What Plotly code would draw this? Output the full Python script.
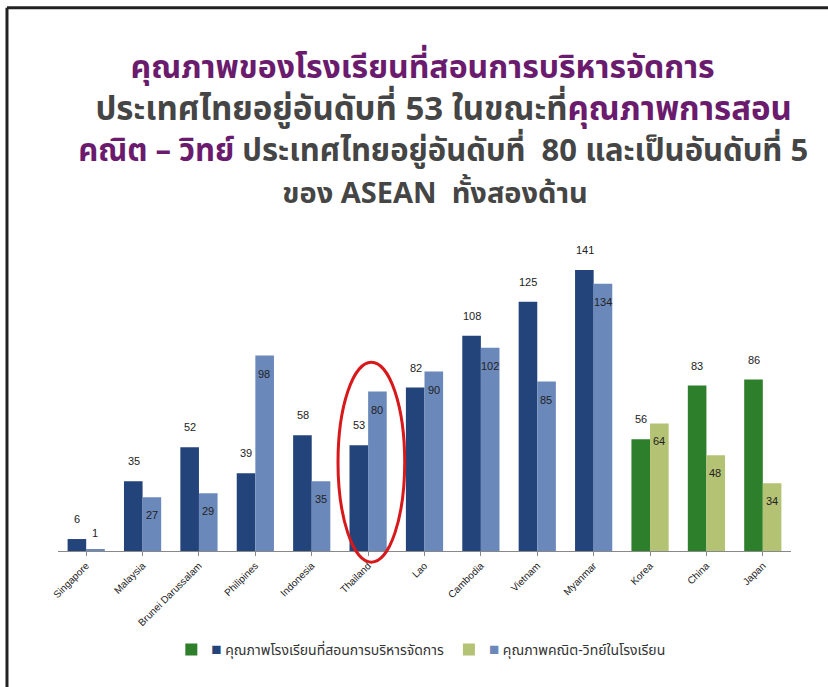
import plotly.graph_objects as go

categories = ["Singapore", "Malaysia", "Brunei Darussalam", "Philipines", "Indonesia",
              "Thailand", "Lao", "Cambodia", "Vietnam", "Myanmar", "Korea", "China", "Japan"]
mgmt = [6, 35, 52, 39, 58, 53, 82, 108, 125, 141, 56, 83, 86]
math = [1, 27, 29, 98, 35, 80, 90, 102, 85, 134, 64, 48, 34]
n_asean = 10

name_mgmt = "คุณภาพโรงเรียนที่สอนการบริหารจัดการ"
name_math = "คุณภาพคณิต-วิทย์ในโรงเรียน"

NAVY = "#23437b"
LBLUE = "#6b88bb"
GREEN = "#2e7f2b"
LGREEN = "#b4c274"
PURPLE = "#6a1b6e"
GRAY = "#454545"

FONT = "Liberation Sans, Arial, sans-serif"
THAI = "Noto Sans Thai, Noto Sans, Liberation Sans, sans-serif"

asean = categories[:n_asean]
others = categories[n_asean:]

fig = go.Figure()
fig.add_trace(go.Bar(x=asean, y=mgmt[:n_asean], marker_color=NAVY, offsetgroup="a",
                     showlegend=False, name=name_mgmt))
fig.add_trace(go.Bar(x=others, y=mgmt[n_asean:], marker_color=GREEN, offsetgroup="a",
                     name="<span style='color:%s;font-size:17px'>■</span> %s" % (NAVY, name_mgmt)))
fig.add_trace(go.Bar(x=asean, y=math[:n_asean], marker_color=LBLUE, offsetgroup="b",
                     showlegend=False, name=name_math))
fig.add_trace(go.Bar(x=others, y=math[n_asean:], marker_color=LGREEN, offsetgroup="b",
                     name="<span style='color:%s;font-size:17px'>■</span> %s" % (LBLUE, name_math)))
fig.update_traces(selector=dict(type="bar"), marker_line_width=0)

lab_font = dict(family=FONT, size=11, color="#222")
annotations = []
for c, v in zip(categories, mgmt):
    annotations.append(dict(x=c, y=v, xref="x", yref="y", text=str(v), showarrow=False,
                            xshift=-9, yshift=12, yanchor="bottom", font=lab_font))
for c, v in zip(categories, math):
    if v < 10:
        annotations.append(dict(x=c, y=v, xref="x", yref="y", text=str(v), showarrow=False,
                                xshift=9, yshift=8, yanchor="bottom", font=lab_font))
    else:
        annotations.append(dict(x=c, y=v, xref="x", yref="y", text=str(v), showarrow=False,
                                xshift=9, yshift=-10, yanchor="top", font=lab_font))

NB = "&nbsp;"
title_text = "<br>".join([
    "<span style='color:%s;font-size:32px'>คุณภาพของโรงเรียนที่สอนการบริหารจัดการ%s</span>" % (PURPLE, NB * 3),
    "<span style='font-size:33px'>%s<span style='color:%s'>ประเทศไทยอยู่อันดับที่ 53 ในขณะที่</span><span style='color:%s'>คุณภาพการสอน</span></span>" % (NB * 2, GRAY, PURPLE),
    "<span style='font-size:31px'>%s<span style='color:%s'>คณิต – วิทย์</span><span style='color:%s'> ประเทศไทยอยู่อันดับที่  80 และเป็นอันดับที่ 5</span></span>" % (NB * 2, PURPLE, GRAY),
    "<span style='color:%s;font-size:29px'>ของ ASEAN  ทั้งสองด้าน</span>" % GRAY,
])
annotations.append(dict(x=0.515, y=1.32, xref="paper", yref="paper", text="<b>%s</b>" % title_text,
                        showarrow=False, xanchor="center", yanchor="middle", align="center",
                        font=dict(family=THAI, size=32, color=GRAY)))

shapes = [
    dict(type="circle", xref="paper", yref="paper", x0=0.382, x1=0.473, y0=-0.035, y1=0.592,
         line=dict(color="#d7191c", width=3)),
    dict(type="line", xref="paper", yref="paper", x0=-0.0696, x1=1.06, y0=1.703, y1=1.703,
         line=dict(color="#222", width=3)),
    dict(type="line", xref="paper", yref="paper", x0=-0.0696, x1=-0.0696, y0=1.703, y1=-0.45,
         line=dict(color="#222", width=3)),
]

fig.update_layout(
    width=828, height=687,
    margin=dict(l=58, r=37, t=232, b=136),
    paper_bgcolor="white", plot_bgcolor="white",
    barmode="group", bargap=0.34, bargroupgap=0,
    showlegend=True,
    legend=dict(orientation="h", x=0.495, xanchor="center", y=-0.31, yanchor="middle",
                font=dict(family=THAI, size=14, color="#333"), itemclick=False),
    xaxis=dict(type="category", categoryorder="array", categoryarray=categories,
               showline=True, linecolor="#888", linewidth=1, ticks="outside", ticklen=4,
               tickcolor="#888", tickangle=-45, showgrid=False,
               tickfont=dict(family=FONT, size=10, color="#222")),
    yaxis=dict(range=[0, 160], visible=False, showgrid=False),
    annotations=annotations,
    shapes=shapes,
)

fig.write_html("out.html", config={"displayModeBar": False},
               post_script="document.body.style.margin='0';document.body.style.overflow='hidden';")
